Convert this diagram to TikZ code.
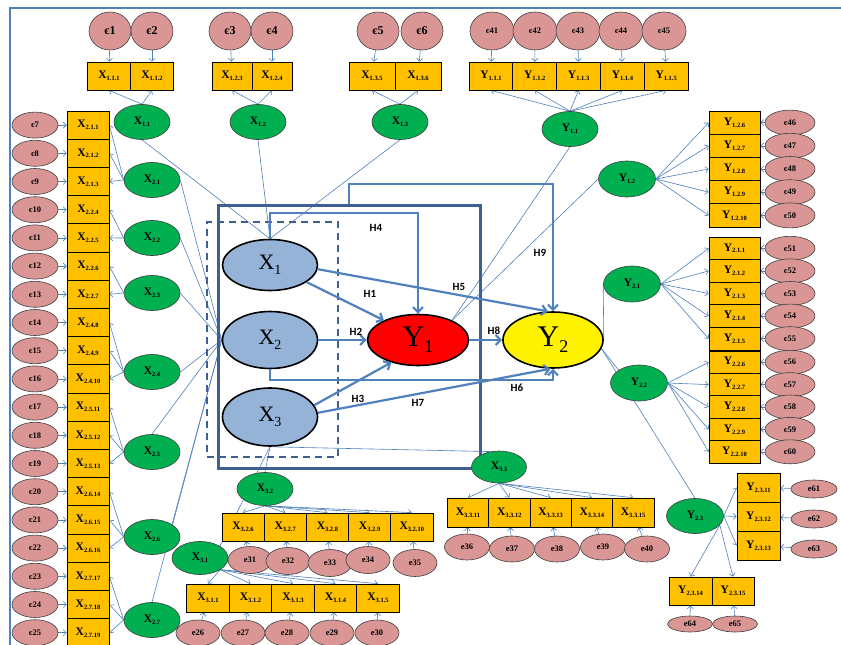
\documentclass[tikz,border=0pt]{standalone}
\usepackage{fontspec}
\setmainfont{Liberation Serif}
\newfontfamily\hfam{Carlito}
\usetikzlibrary{shapes.geometric,arrows.meta,calc}
\definecolor{errc}{HTML}{D99694}
\definecolor{boxc}{HTML}{FFC000}
\definecolor{grn}{HTML}{00B050}
\definecolor{bluec}{HTML}{95B3D7}
\definecolor{lnc}{HTML}{4F81BD}
\definecolor{rectc}{HTML}{3F5E91}
\newcommand{\subx}[1]{\raisebox{-0.35ex}{\fontsize{6.5}{7}\selectfont #1}}
\newcommand{\bigsub}[2]{\raisebox{-0.45ex}{\fontsize{#1}{#1}\selectfont #2}}
\pgfdeclarelayer{bg}
\pgfsetlayers{bg,main}
\begin{document}
\begin{tikzpicture}[x=1pt,y=-1pt,
 err/.style={ellipse, draw=black!75, fill=errc, line width=0.6pt, inner sep=0pt, font=\bfseries\fontsize{8.5}{9}\selectfont},
 ind/.style={rectangle, draw=black, fill=boxc, line width=0.7pt, inner sep=0pt, font=\bfseries\fontsize{11.5}{12}\selectfont},
 lat/.style={ellipse, draw=black!75, fill=grn, line width=0.6pt, inner sep=0pt, minimum width=56pt, minimum height=35pt, font=\bfseries\fontsize{11.5}{12}\selectfont},
 con/.style={ellipse, draw=black, line width=1.6pt, inner sep=0pt},
 thin/.style={draw=lnc, line width=0.6pt},
 tarr/.style={thin, -{Straight Barb[length=3pt,width=6pt]}},
 marr/.style={draw=lnc, line width=2.2pt, -{Straight Barb[length=5pt,width=10pt]}},
 hlab/.style={font=\hfam\bfseries\fontsize{11}{12}\selectfont},
]
\useasboundingbox (0,0) rectangle (841,645);
\begin{pgfonlayer}{bg}
\fill[white] (0,0) rectangle (841,645);
\end{pgfonlayer}
\draw[lnc, line width=2pt] (10,645) -- (10,8) -- (841,8);

% ---------- main constructs ----------
\node[draw=rectc, line width=3pt, minimum width=262pt, minimum height=263pt, inner sep=0pt] (frameR) at (349,336.5) {};
\node[draw=rectc, line width=1.8pt, dash pattern=on 7pt off 5pt, minimum width=131pt, minimum height=235pt, inner sep=0pt] (dashR) at (272.5,339.5) {};
\node[con, fill=bluec, minimum width=95pt, minimum height=51pt, font=\fontsize{22}{22}\selectfont] (X1) at (270,265) {X\bigsub{14}{1}};
\node[con, fill=bluec, minimum width=95pt, minimum height=57pt, font=\fontsize{22}{22}\selectfont] (X2) at (270,340) {X\bigsub{14}{2}};
\node[con, fill=bluec, minimum width=95pt, minimum height=58pt, font=\fontsize{22}{22}\selectfont] (X3) at (270,417) {X\bigsub{14}{3}};
\node[con, fill=red, minimum width=101pt, minimum height=51pt, font=\fontsize{30}{30}\selectfont] (Y1) at (418,340) {Y\bigsub{18}{1}};
\node[con, fill=yellow, minimum width=100pt, minimum height=56pt, font=\fontsize{30}{30}\selectfont] (Y2) at (553,340) {Y\bigsub{18}{2}};

% ---------- top X1 indicators ----------
\foreach \n/\x in {1/110,2/152,3/230,4/272,5/378,6/422}
  \node[err, minimum width=42pt, minimum height=38pt, font=\bfseries\fontsize{12}{12}\selectfont] (e\n) at (\x,31) {є\n};
\foreach \nm/\x/\w/\lab in {b111/109/43/1.1.1, b112/152/43/1.1.2, b123/232/40/1.2.3, b124/272/40/1.2.4, b135/372/46/1.3.5, b136/418/46/1.3.6}
  \node[ind, minimum width=\w pt, minimum height=28pt] (\nm) at (\x,76) {X\subx{\lab}};
\node[lat] (g11) at (142,122) {X\subx{1.1}};
\node[lat] (g12) at (258,122) {X\subx{1.2}};
\node[lat] (g13) at (400,122) {X\subx{1.3}};

% ---------- top Y1.1 indicators ----------
\foreach \j in {0,...,4} {
  \pgfmathtruncatemacro\en{\j+41}
  \pgfmathtruncatemacro\bn{\j+1}
  \node[err, minimum width=44pt, minimum height=38pt] (ey\j) at ({492+43*\j},31) {є\en};
  \node[ind, minimum width=44pt, minimum height=28pt] (y11\j) at ({491+43.8*\j},76) {Y\subx{1.1.\bn}};
}
\node[lat] (gy11) at (570,129) {Y\subx{1.1}};

% ---------- left X2 column ----------
\foreach \i/\lab in {0/2.1.1,1/2.1.2,2/2.1.3,3/2.2.4,4/2.2.5,5/2.2.6,6/2.2.7,7/2.4.8,8/2.4.9,9/2.4.10,10/2.5.11,11/2.5.12,12/2.5.13,13/2.6.14,14/2.6.15,15/2.6.16,16/2.7.17,17/2.7.18,18/2.7.19} {
  \pgfmathsetmacro\yy{125.1+28.2*\i}
  \pgfmathtruncatemacro\en{\i+7}
  \node[ind, minimum width=42pt, minimum height=28.2pt] (L\i) at (88,\yy) {X\subx{\lab}};
  \node[err, minimum width=46pt, minimum height=26pt] (EL\i) at (35,\yy) {є\en};
}
\foreach \k/\y in {1/180,2/238,3/293,4/372,5/452,6/537,7/620}
  \node[lat] (g2\k) at (152,\y) {X\subx{2.\k}};

% ---------- bottom X3 ----------
\node[lat, minimum height=33pt] (g32) at (265,489) {X\subx{3.2}};
\node[lat, minimum height=33pt] (g31) at (200,558) {X\subx{3.1}};
\node[lat, minimum width=55pt, minimum height=32pt] (g33) at (499,467) {X\subx{3.3}};
\foreach \j in {0,...,4} {
  \pgfmathtruncatemacro\bn{\j+6}
  \node[ind, minimum width=42.2pt, minimum height=28pt] (x32\j) at ({243+42.2*\j},527) {X\subx{3.2.\bn}};
  \pgfmathtruncatemacro\bm{\j+1}
  \node[ind, minimum width=42.5pt, minimum height=28pt] (x31\j) at ({208+42.5*\j},598) {X\subx{3.1.\bm}};
  \pgfmathtruncatemacro\bk{\j+11}
  \node[ind, minimum width=41.3pt, minimum height=29pt] (x33\j) at ({468+41.3*\j},512.5) {X\subx{3.3.\bk}};
}
\foreach \j/\x/\y in {0/250/560,1/288/561,2/330/563,3/368/560,4/415/563} {
  \pgfmathtruncatemacro\en{\j+31}
  \node[err, minimum width=44pt, minimum height=27pt] (e32\j) at (\x,\y) {e\en};
}
\foreach \j/\x in {0/198,1/243,2/287,3/332,4/377} {
  \pgfmathtruncatemacro\en{\j+26}
  \node[err, minimum width=44pt, minimum height=26pt] (e31\j) at (\x,633) {e\en};
}
\foreach \j/\x/\y in {0/467/547,1/512/549,2/557/549,3/603/547,4/647/549} {
  \pgfmathtruncatemacro\en{\j+36}
  \node[err, minimum width=45pt, minimum height=26pt] (e33\j) at (\x,\y) {e\en};
}

% ---------- right Y groups ----------
\node[lat, minimum width=57pt, minimum height=36pt] (gy12) at (627,179) {Y\subx{1.2}};
\node[lat, minimum width=57pt, minimum height=36pt] (gy21) at (632,284) {Y\subx{2.1}};
\node[lat, minimum width=57pt, minimum height=36pt] (gy22) at (639,383) {Y\subx{2.2}};
\node[lat, minimum width=57pt, minimum height=35pt] (gy23) at (695,516) {Y\subx{2.3}};
\foreach \j in {0,...,4} {
  \pgfmathsetmacro\ya{122.6+23.2*\j}
  \pgfmathsetmacro\yb{248.3+22.6*\j}
  \pgfmathsetmacro\yc{362.2+22.4*\j}
  \pgfmathtruncatemacro\na{\j+6}
  \pgfmathtruncatemacro\nb{\j+1}
  \pgfmathtruncatemacro\ea{\j+46}
  \pgfmathtruncatemacro\eb{\j+51}
  \pgfmathtruncatemacro\ec{\j+56}
  \node[ind, minimum width=51pt, minimum height=23.2pt] (y12\j) at (734.5,\ya) {Y\subx{1.2.\na}};
  \node[ind, minimum width=51pt, minimum height=22.6pt] (y21\j) at (734.5,\yb) {Y\subx{2.1.\nb}};
  \node[ind, minimum width=51pt, minimum height=22.4pt] (y22\j) at (734.5,\yc) {Y\subx{2.2.\na}};
  \node[err, minimum width=50pt, minimum height=25pt] (ea\j) at (790,\ya) {є\ea};
  \node[err, minimum width=50pt, minimum height=24pt] (eb\j) at (790,\yb) {є\eb};
  \node[err, minimum width=50pt, minimum height=24pt] (ec\j) at (790,\yc) {є\ec};
}
\foreach \j/\ye in {0/489,1/519,2/549} {
  \pgfmathtruncatemacro\nb{\j+11}
  \pgfmathtruncatemacro\en{\j+61}
  \node[ind, minimum width=43pt, minimum height=29pt] (y23\j) at (758.5,{487.5+29*\j}) {Y\subx{2.3.\nb}};
  \node[err, minimum width=46pt, minimum height=18pt] (ed\j) at (814,\ye) {e\en};
}
\node[ind, minimum width=43pt, minimum height=28pt] (y234) at (690.5,591) {Y\subx{2.3.14}};
\node[ind, minimum width=42pt, minimum height=28pt] (y235) at (733,591) {Y\subx{2.3.15}};
\node[err, minimum width=45pt, minimum height=16pt] (e64) at (690,624) {e64};
\node[err, minimum width=45pt, minimum height=16pt] (e65) at (735,624) {e65};

% ---------- thin connectors (background) ----------
\begin{pgfonlayer}{bg}
\foreach \a/\b in {e1/b111,e2/b112,e3/b123,e4/b124,e5/b135,e6/b136} \draw[tarr] (\a) -- (\b);
\draw[tarr] (g11.north) -- (b111.south);
\draw[tarr] (g11.north) -- (b112.south);
\draw[tarr] (g12.north) -- (b123.south);
\draw[tarr] (g12.north) -- (b124.south);
\draw[tarr] (g13.north) -- (b135.south);
\draw[tarr] (g13.north) -- (b136.south);
\foreach \g in {g11,g12,g13} \draw[thin] (\g.south) -- (X1.north);
\foreach \j in {0,...,4} {
  \draw[tarr] (ey\j) -- (y11\j);
  \draw[tarr] (gy11.north) -- (y11\j.south);
  \draw[tarr] (gy12.east) -- (y12\j.west);
  \draw[tarr] (gy21.east) -- (y21\j.west);
  \draw[tarr] (gy22.east) -- (y22\j.west);
  \draw[tarr] (ea\j) -- (y12\j);
  \draw[tarr] (eb\j) -- (y21\j);
  \draw[tarr] (ec\j) -- (y22\j);
  \draw[tarr] (g32.south) -- (x32\j.north);
  \draw[tarr] (g31.-30) -- (x31\j.north);
  \draw[tarr] (g33.south) -- (x33\j.north);
  \draw[tarr] (e32\j) -- (x32\j);
  \draw[tarr] (e31\j) -- (x31\j);
  \draw[tarr] (e33\j) -- (x33\j);
}
\foreach \j in {0,...,2} {
  \draw[tarr] (gy23.east) -- (y23\j.west);
  \draw[tarr] (ed\j) -- (y23\j);
}
\draw[tarr] (gy23.-20) -- (y234.north);
\draw[tarr] (gy23.-20) -- (y235.north);
\draw[tarr] (e64) -- (y234);
\draw[tarr] (e65) -- (y235);
\draw[thin] (gy11.south) -- (Y1.30);
\draw[thin] (gy12.west) -- (Y1.30);
\draw[thin] (gy21.west) -- (Y2.east);
\draw[thin] (Y2.-10) -- (gy22.north west);
\draw[thin] (Y2.-10) -- (gy23.north);
\foreach \i in {0,...,18} \draw[tarr] (EL\i) -- (L\i);
\foreach \j in {0,1,2} \draw[tarr] (g21.west) -- (L\j.east);
\foreach \j in {3,4} \draw[tarr] (g22.west) -- (L\j.east);
\foreach \j in {5,6} \draw[tarr] (g23.west) -- (L\j.east);
\foreach \j in {7,8,9} \draw[tarr] (g24.west) -- (L\j.east);
\foreach \j in {10,11,12} \draw[tarr] (g25.west) -- (L\j.east);
\foreach \j in {13,14,15} \draw[tarr] (g26.west) -- (L\j.east);
\foreach \j in {16,17,18} \draw[tarr] (g27.west) -- (L\j.east);
\foreach \g/\an in {g21/east,g22/east,g23/east,g24/east,g25/north,g26/north east,g27/north} \draw[thin] (\g.\an) -- (X2.west);
\draw[thin] (g32.north) -- (X3.south);
\draw[thin] (g31.north east) -- (X3.south);
\draw[thin] (X3.south) -- (g33.120);
\end{pgfonlayer}

% ---------- main paths ----------
\coordinate (h4) at (0,213);
\coordinate (h9) at (0,184);
\coordinate (h6) at (0,380);
\draw[marr] (X1.north) -- (X1.north |- h4) -| (Y1.north);
\draw[marr] (frameR.north) -- (frameR.north |- h9) -| (Y2.north);
\draw[marr] (X1.-25) -- (Y1.150);
\draw[marr] (X2.east) -- (Y1.west);
\draw[marr] (X3.15) -- (Y1.-140);
\draw[marr] (X1.-5) -- (Y2.100);
\draw[marr] (X2.south) -- (X2.south |- h6) -| (Y2.south);
\draw[marr] (X3.5) -- (Y2.-95);
\draw[marr] (Y1.east) -- (Y2.west);

\node[hlab] (lh4) at (376,228) {H4};
\node[hlab] (lh1) at (370,294) {H1};
\node[hlab] (lh2) at (356,332) {H2};
\node[hlab] (lh3) at (358,399) {H3};
\node[hlab] (lh5) at (459,287) {H5};
\node[hlab] (lh6) at (517,388) {H6};
\node[hlab] (lh7) at (418,403) {H7};
\node[hlab] (lh8) at (494,331) {H8};
\node[hlab] (lh9) at (540,253) {H9};
\end{tikzpicture}
\end{document}
